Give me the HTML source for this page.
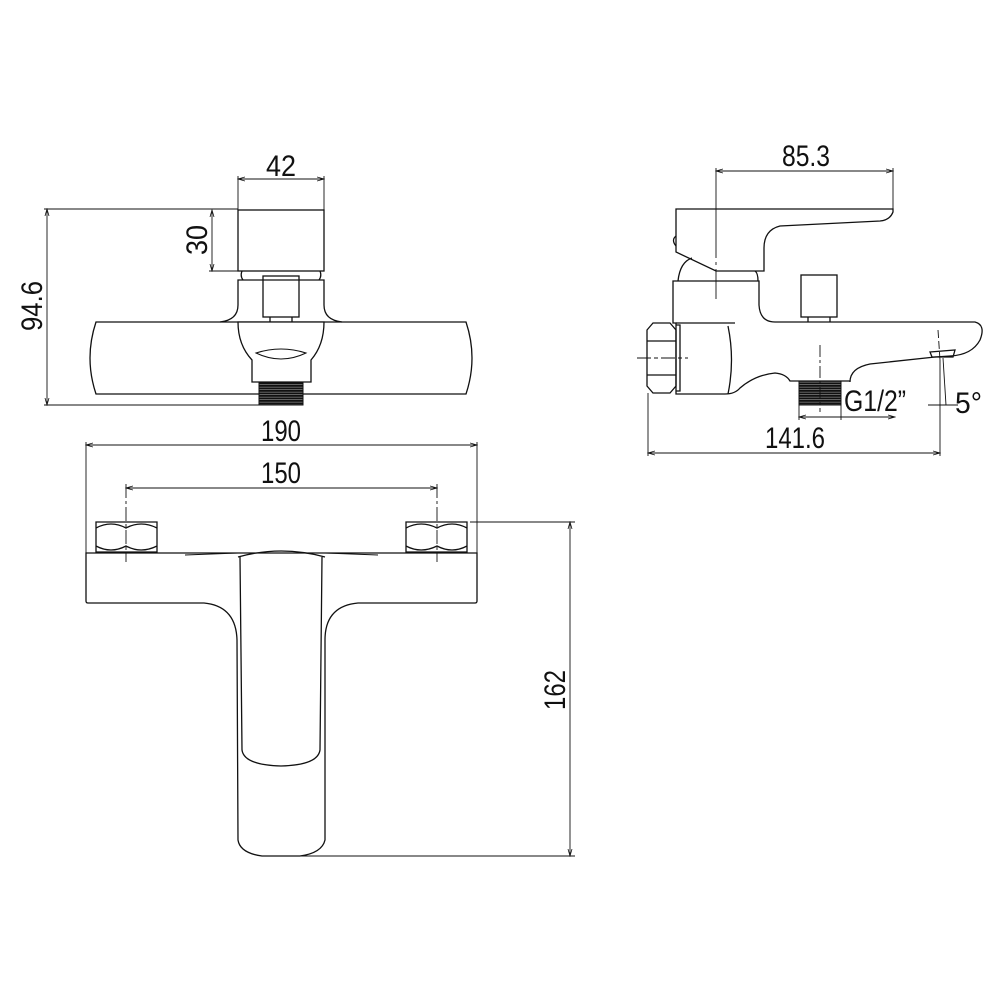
<!DOCTYPE html>
<html><head><style>html,body{margin:0;padding:0;background:#fff}svg{display:block}text{font-family:"Liberation Sans",sans-serif;fill:#111}</style></head>
<body>
<svg width="1000" height="1000" viewBox="0 0 1000 1000" xmlns="http://www.w3.org/2000/svg">
<defs>
<marker id="a" markerWidth="8" markerHeight="6" refX="7" refY="3" orient="auto-start-reverse" markerUnits="userSpaceOnUse"><path d="M0,1 L7,3 L0,5" fill="none" stroke="#111" stroke-width="0.8"/></marker>
<pattern id="th" width="4" height="2.5" patternUnits="userSpaceOnUse"><rect width="4" height="2.5" fill="#888"/><rect y="0" width="4" height="1.8" fill="#111"/></pattern>
</defs>
<g fill="none" stroke="#111" stroke-width="1.3">
<!-- FRONT VIEW -->
<line x1="238" y1="179" x2="324" y2="179" stroke-width="0.9" marker-start="url(#a)" marker-end="url(#a)"/>
<line x1="238" y1="176" x2="238" y2="210" stroke-width="0.9"/>
<line x1="324" y1="176" x2="324" y2="210" stroke-width="0.9"/>
<rect x="238" y="210" width="86" height="61"/>
<line x1="212" y1="210" x2="212" y2="271" stroke-width="0.9" marker-start="url(#a)" marker-end="url(#a)"/>
<line x1="209" y1="271" x2="238" y2="271" stroke-width="0.9"/>
<line x1="47" y1="209" x2="47" y2="405" stroke-width="0.9" marker-start="url(#a)" marker-end="url(#a)"/>
<line x1="44" y1="209" x2="238" y2="209" stroke-width="0.9"/>
<line x1="44" y1="405" x2="262" y2="405" stroke-width="0.9"/>
<path d="M242,271 Q240,276 243,280 M320,271 Q322,276 319,280"/>
<path d="M220,322 Q238,320 238,305 L238,280 L324,280 L324,305 Q324,320 342,322"/>
<rect x="263" y="276" width="36" height="41"/>
<line x1="270" y1="317" x2="270" y2="322"/><line x1="292" y1="317" x2="292" y2="322"/>
<path d="M96,322 L466,322 Q478,358 466,394 L96,394 Q84,358 96,322 Z"/>
<path d="M238,322 L324,322 Q324,345 311,360 L311,382 L252,382 L252,360 Q238,345 238,322 Z" fill="#fff"/>
<path d="M256,353 Q281,345 306,353 Q281,365 256,353 Z" stroke-width="1"/>
<rect x="259" y="382" width="44" height="23" fill="url(#th)" stroke-width="1"/>
<!-- BOTTOM VIEW -->
<line x1="86" y1="445" x2="477" y2="445" stroke-width="0.9" marker-start="url(#a)" marker-end="url(#a)"/>
<line x1="86" y1="442" x2="86" y2="553" stroke-width="0.9"/>
<line x1="477" y1="442" x2="477" y2="553" stroke-width="0.9"/>
<line x1="126" y1="488" x2="437" y2="488" stroke-width="0.9" marker-start="url(#a)" marker-end="url(#a)"/>
<line x1="126" y1="484" x2="126" y2="562" stroke-width="0.9" stroke-dasharray="14,3,3,3"/>
<line x1="437" y1="484" x2="437" y2="562" stroke-width="0.9" stroke-dasharray="14,3,3,3"/>
<path d="M96,522 L157,522 L157,552 L96,552 Z M96,528 Q111,520 126,528 Q141,520 157,528 M96,546 Q111,554 126,546 Q141,554 157,546"/>
<path d="M406,522 L467,522 L467,552 L406,552 Z M406,528 Q421,520 437,528 Q452,520 467,528 M406,546 Q421,554 437,546 Q452,554 467,546"/>
<path d="M86,553 L477,553 L477,601 Q477,603 475,603 L358,603 Q325,606 325,640 L325,840 Q322,853 300,856 L262,856 Q240,853 238,840 L237,640 Q236,606 204,603 L88,603 Q86,603 86,601 Z"/>
<path d="M238,557 Q281,545 325,557"/>
<path d="M185,555 L238,553 M325,553 L378,555" stroke-width="1"/>
<path d="M240,557 L242,750 Q244,765 281,766 Q318,765 320,750 L322,557"/>
<line x1="570" y1="522" x2="570" y2="856" stroke-width="0.9" marker-start="url(#a)" marker-end="url(#a)"/>
<line x1="470" y1="522" x2="575" y2="522" stroke-width="0.9"/>
<line x1="290" y1="856" x2="575" y2="856" stroke-width="0.9"/>
<!-- SIDE VIEW -->
<line x1="716" y1="171" x2="893" y2="171" stroke-width="0.9" marker-start="url(#a)" marker-end="url(#a)"/>
<line x1="716" y1="168" x2="716" y2="303" stroke-width="0.9" stroke-dasharray="90,4,3,4,30"/>
<line x1="893" y1="168" x2="893" y2="210" stroke-width="0.9"/>
<path d="M676,209 L893,209 L893,212 Q890,220 880,221 L780,226 Q764,230 764,248 L764,271 L716,271 L676,252 Z"/>
<path d="M676,236 Q671,240 676,246"/>
<path d="M678,281 Q680,262 692,258 M758,281 Q758,273 755,271"/>
<path d="M673,281 L759,281 L759,305 Q760,322 775,322 L975,322 Q986,325 980,340 Q972,355 950,356 L935,357 L870,364 Q850,368 850,382 L850,381 L790,381 Q786,374 775,373 Q755,375 740,388 Q735,394 725,394 L676,394 L676,323 L673,323 Z"/>
<path d="M676,323 L735,323 M728,326 Q735,360 728,394"/>
<path d="M930,352 L955,350 L953,357 L932,357 Z"/>
<rect x="801" y="275" width="36" height="42"/>
<line x1="808" y1="317" x2="808" y2="322"/><line x1="830" y1="317" x2="830" y2="322"/>
<path d="M647,330 L653,323 L670,323 L676,330 L676,386 L670,393 L653,393 L647,386 Z M647,341 L676,341 M647,375 L676,375 M676,325 L680,325 L680,391 L676,391"/>
<line x1="637" y1="358" x2="688" y2="358" stroke-width="0.9" stroke-dasharray="14,3,4,3"/>
<rect x="799" y="381" width="42" height="24" fill="url(#th)" stroke-width="1"/>
<line x1="820" y1="345" x2="820" y2="412" stroke-width="0.9" stroke-dasharray="12,3,3,3"/>
<line x1="799" y1="417" x2="895" y2="417" stroke-width="0.9" marker-start="url(#a)" marker-end="url(#a)"/>
<line x1="799" y1="405" x2="799" y2="420" stroke-width="0.9"/>
<line x1="841" y1="405" x2="841" y2="420" stroke-width="0.9"/>
<line x1="648" y1="453" x2="940" y2="453" stroke-width="0.9" marker-start="url(#a)" marker-end="url(#a)"/>
<line x1="648" y1="393" x2="648" y2="456" stroke-width="0.9"/>
<line x1="940" y1="360" x2="940" y2="456" stroke-width="0.9"/>
<line x1="938" y1="330" x2="940" y2="360" stroke-width="0.9" stroke-dasharray="8,3"/>
<line x1="943" y1="358" x2="946" y2="405" stroke-width="0.9"/>
<line x1="928" y1="405" x2="958" y2="405" stroke-width="0.9"/>
</g>
<g font-size="30">
<text x="281" y="176" text-anchor="middle" textLength="30" lengthAdjust="spacingAndGlyphs">42</text>
<text transform="translate(207,240) rotate(-90)" text-anchor="middle" textLength="30" lengthAdjust="spacingAndGlyphs">30</text>
<text transform="translate(42,306) rotate(-90)" text-anchor="middle" textLength="50" lengthAdjust="spacingAndGlyphs">94.6</text>
<text x="281" y="441" text-anchor="middle" textLength="40" lengthAdjust="spacingAndGlyphs">190</text>
<text x="281" y="483" text-anchor="middle" textLength="40" lengthAdjust="spacingAndGlyphs">150</text>
<text transform="translate(565,690) rotate(-90)" text-anchor="middle" textLength="40" lengthAdjust="spacingAndGlyphs">162</text>
<text x="806" y="166" text-anchor="middle" textLength="48" lengthAdjust="spacingAndGlyphs">85.3</text>
<text x="844" y="411" textLength="62" lengthAdjust="spacingAndGlyphs">G1/2”</text>
<text x="955" y="413" textLength="27" lengthAdjust="spacingAndGlyphs">5°</text>
<text x="795" y="448" text-anchor="middle" textLength="60" lengthAdjust="spacingAndGlyphs">141.6</text>
</g>
</svg>
</body></html>
